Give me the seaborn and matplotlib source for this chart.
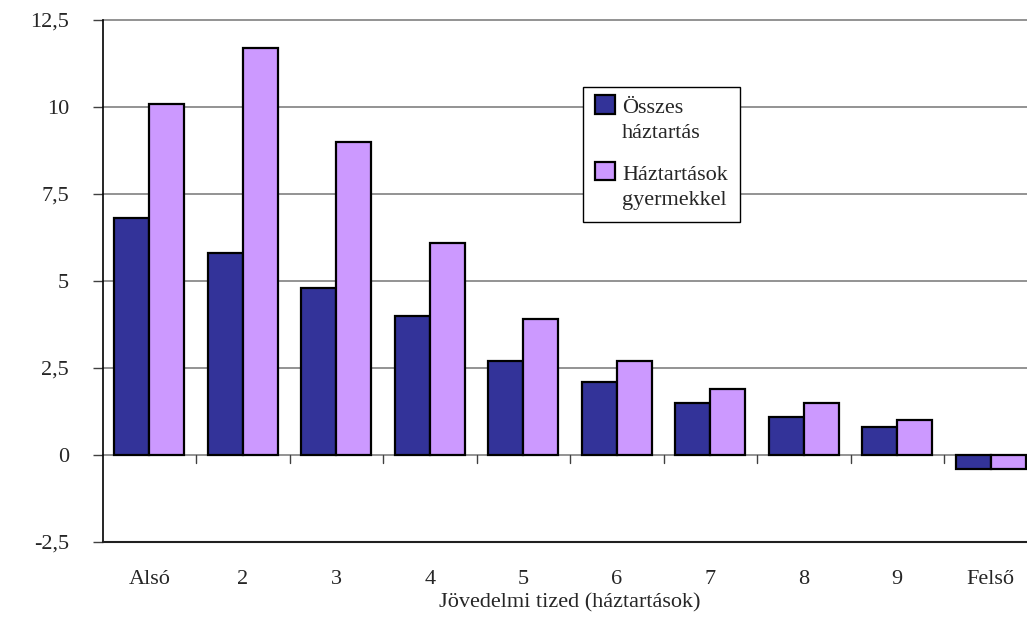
import numpy as np
import pandas as pd
import matplotlib
matplotlib.use("Agg")
import matplotlib.pyplot as plt
import seaborn as sns
from matplotlib.ticker import FuncFormatter
from matplotlib.patches import Patch, Rectangle
from matplotlib.legend_handler import HandlerPatch

categories = ["Alsó", "2", "3", "4", "5", "6", "7", "8", "9", "Felső"]
osszes = [6.8, 5.8, 4.8, 4.0, 2.7, 2.1, 1.5, 1.1, 0.8, -0.4]
gyermekkel = [10.1, 11.7, 9.0, 6.1, 3.9, 2.7, 1.9, 1.5, 1.0, -0.4]
series_names = ["Összes\nháztartás", "Háztartások\ngyermekkel"]
yticks = [-2.5, 0, 2.5, 5, 7.5, 10, 12.5]
xlabel = "Jövedelmi tized (háztartások)"
colors = ["#333399", "#CC99FF"]

df = pd.DataFrame({
    "tized": categories * 2,
    "value": osszes + gyermekkel,
    "series": [series_names[0]] * len(categories) + [series_names[1]] * len(categories),
})

sns.set_style("white")
plt.rcParams["font.family"] = ["Liberation Serif", "DejaVu Serif"]

FS = 16

fig = plt.figure(figsize=(10.27, 6.18), dpi=100)
ax = fig.add_axes([102.5 / 1027, 76 / 618, 935 / 1027, 522 / 618])

sns.barplot(data=df, x="tized", y="value", hue="series", order=categories,
            hue_order=series_names, palette=colors, saturation=1,
            width=0.75, edgecolor="black", linewidth=1.6, ax=ax, zorder=3,
            err_kws={"linewidth": 0}, legend=False)

ax.set_ylim(-2.5, 12.5)
ax.set_xlim(-0.5, len(categories) - 0.5)
ax.set_yticks(yticks)
ax.yaxis.set_major_formatter(FuncFormatter(lambda v, p: (f"{v:g}").replace(".", ",")))
for y in yticks[1:]:
    ax.axhline(y, color="#808080", linewidth=1.2, zorder=1, clip_on=False)

# category boundary ticks on the zero line
for i in range(len(categories) - 1):
    ax.plot([i + 0.5, i + 0.5], [0, -0.22], color="#404040", linewidth=1.0, zorder=2)

for s in ["top", "right"]:
    ax.spines[s].set_visible(False)
ax.spines["left"].set_color("black")
ax.spines["left"].set_linewidth(1.2)
ax.spines["bottom"].set_color("#202020")
ax.spines["bottom"].set_linewidth(1.5)

ax.tick_params(axis="y", direction="out", length=7, width=1.0, color="#404040",
               labelsize=FS, pad=17, left=True)
ax.tick_params(axis="x", length=0, labelsize=FS, pad=20)
ax.set_xlabel(xlabel, fontsize=FS, labelpad=3)
ax.set_ylabel("")


def top_square(legend, orig_handle, xdescent, ydescent, width, height, fontsize):
    shift = 0.72 * fontsize
    return Rectangle((-xdescent, -ydescent + shift), width, height)


proxies = [Patch(facecolor=c, edgecolor="black", linewidth=1.6) for c in colors]
leg = ax.legend(handles=proxies, labels=series_names,
                handler_map={Patch: HandlerPatch(patch_func=top_square)},
                loc="upper left", bbox_to_anchor=(0.514, 0.872), borderaxespad=0,
                fontsize=FS, frameon=True, fancybox=False, edgecolor="black",
                framealpha=1, handlelength=0.9, handleheight=0.9,
                handletextpad=0.3, labelspacing=1.0, borderpad=0.55)
leg.get_frame().set_linewidth(1.0)
for t in leg.get_texts():
    t.set_linespacing(1.45)
leg.set_zorder(5)

fig.savefig("out.png", dpi=100)
